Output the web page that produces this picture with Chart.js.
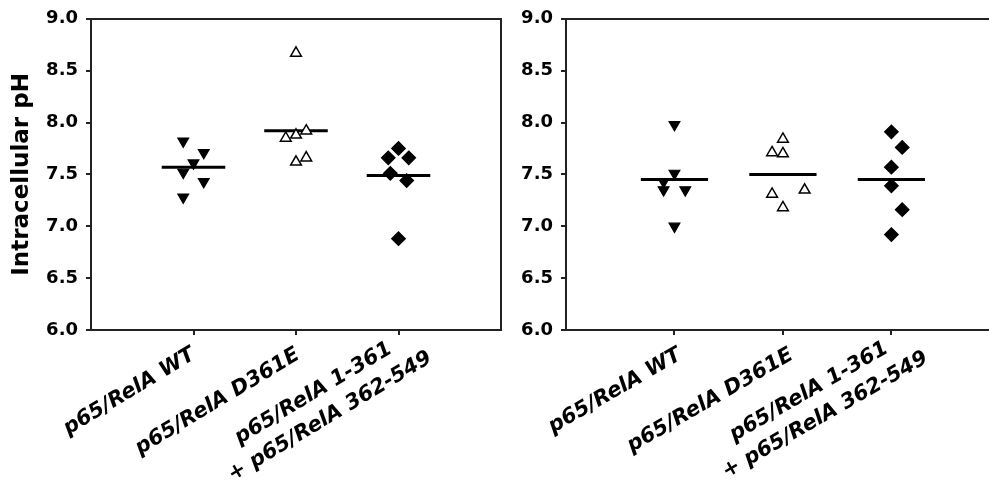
<!DOCTYPE html>
<html>
<head>
<meta charset="utf-8">
<script src="https://cdn.jsdelivr.net/npm/chart.js@4.4.0/dist/chart.umd.min.js"></script>
<style>
  body { margin: 0; background: #fff; width: 989px; height: 486px; overflow: hidden; position: relative; }
  canvas { position: absolute; top: 0; }
  #leftChart { left: 0; }
  #rightChart { left: 510px; }
</style>
</head>
<body>
<canvas id="leftChart" width="510" height="486"></canvas>
<canvas id="rightChart" width="479" height="486"></canvas>
<script>
// categories / tick labels
var groupLabels = ['p65/RelA WT', 'p65/RelA D361E', ['p65/RelA 1-361', '+ p65/RelA 362-549']];
var yTickValues = [6.0, 6.5, 7.0, 7.5, 8.0, 8.5, 9.0];

// left panel: pH values per group, plus horizontal scatter offsets
var leftWT = [7.82, 7.71, 7.61, 7.52, 7.43, 7.28];
var leftWTShift = [-0.1, 0.1, 0, -0.1, 0.1, -0.1];
var leftD361E = [8.67, 7.92, 7.88, 7.85, 7.66, 7.62];
var leftD361EShift = [0, 0.1, 0, -0.1, 0.1, 0];
var leftSplit = [7.75, 7.66, 7.66, 7.51, 7.44, 6.88];
var leftSplitShift = [0, -0.1, 0.1, -0.08, 0.08, 0];
var leftMeans = [7.57, 7.92, 7.49];

// right panel
var rightWT = [7.98, 7.51, 7.43, 7.35, 7.35, 7.00];
var rightWTShift = [0, 0, -0.1, -0.1, 0.1, 0];
var rightD361E = [7.84, 7.71, 7.70, 7.35, 7.31, 7.18];
var rightD361EShift = [0, -0.1, 0, 0.2, -0.1, 0];
var rightSplit = [7.91, 7.76, 7.57, 7.39, 7.16, 6.92];
var rightSplitShift = [0, 0.1, 0, 0, 0.1, 0];
var rightMeans = [7.45, 7.50, 7.45];

var AXIS = '#222';
var meanHalfWidth = 0.31;
var PLOT_BOTTOM = 330;
// the one-line labels get a tall line box, which just pushes them lower
var singleFont = {family: 'DejaVu Sans', size: 21, weight: 'bold', style: 'italic', lineHeight: 3.7};
var splitFont = {family: 'DejaVu Sans', size: 21, weight: 'bold', style: 'italic', lineHeight: 1.35};

function pts(group, values, shifts) {
  var out = [];
  for (var i = 0; i < values.length; i++) {
    out.push({x: group + shifts[i], y: values[i]});
  }
  return out;
}

function markerSet(data, style) {
  var ds = {type: 'scatter', data: data, pointRadius: 6.2, pointHoverRadius: 6.2, borderWidth: 1.2};
  if (style == 'down') {
    ds.pointStyle = 'triangle'; ds.rotation = 180;
    ds.backgroundColor = '#000'; ds.borderColor = '#000';
  } else if (style == 'open') {
    ds.pointStyle = 'triangle';
    ds.backgroundColor = '#fff'; ds.borderColor = '#000'; ds.borderWidth = 1.5;
  } else {
    ds.pointStyle = 'rectRot'; ds.pointRadius = 6.8;
    ds.backgroundColor = '#000'; ds.borderColor = '#000';
  }
  return ds;
}

function meanLine(group, mean) {
  return {
    type: 'line',
    data: [{x: group - meanHalfWidth, y: mean}, {x: group + meanHalfWidth, y: mean}],
    borderColor: '#000', borderWidth: 3, pointRadius: 0, fill: false
  };
}

function buildDatasets(wt, wtS, d, dS, sp, spS, means) {
  return [
    markerSet(pts(1, wt, wtS), 'down'),
    markerSet(pts(2, d, dS), 'open'),
    markerSet(pts(3, sp, spS), 'diamond'),
    meanLine(1, means[0]),
    meanLine(2, means[1]),
    meanLine(3, means[2])
  ];
}

function makeOptions(xMax, yWidth, padRight, padTop, withTitle, labelPos, rot) {
  var scales = {
    x: {
      type: 'linear', position: 'bottom', min: 0, max: xMax, weight: 0,
      afterBuildTicks: function (s) { s.ticks = [{value: 1}, {value: 2}, {value: 3}]; },
      afterFit: function (s) { s.height = 5; s.paddingLeft = 0; s.paddingRight = 0; },
      grid: {drawOnChartArea: false, drawTicks: true, tickLength: 5, color: AXIS, lineWidth: 2},
      border: {display: true, color: AXIS, width: 2},
      ticks: {display: false}
    },
    // separate axis only for the rotated category names
    xLab: {
      type: 'linear', position: 'bottom', min: 0, max: xMax, weight: 1,
      afterBuildTicks: function (s) {
        s.ticks = labelPos.map(function (v) { return {value: v}; });
      },
      afterFit: function (s) { s.height = 486 - PLOT_BOTTOM - 5; s.paddingLeft = 0; s.paddingRight = 0; },
      grid: {display: false, drawTicks: false},
      border: {display: false},
      ticks: {
        autoSkip: false, minRotation: rot, maxRotation: rot, padding: -15, color: '#000',
        font: function (c) { return c.index == 2 ? splitFont : singleFont; },
        callback: function (v, idx) {
          var lab = groupLabels[idx];
          if (Array.isArray(lab)) {
            // pull the shorter first line back so it sits centred over the second
            return [lab[0] + '\u00a0\u00a0\u00a0\u00a0', lab[1]];
          }
          return lab;
        }
      }
    },
    xTop: {
      type: 'linear', position: 'top', min: 0, max: xMax, display: true,
      afterFit: function (s) { s.height = 0; s.paddingLeft = 0; s.paddingRight = 0; },
      grid: {display: false, drawTicks: false},
      border: {display: true, color: AXIS, width: 2},
      ticks: {display: false}
    },
    y: {
      type: 'linear', position: 'left', min: 6, max: 9,
      afterBuildTicks: function (s) {
        s.ticks = yTickValues.map(function (v) { return {value: v}; });
      },
      afterFit: function (s) { s.width = yWidth; },
      grid: {drawOnChartArea: false, drawTicks: true, tickLength: 5, color: AXIS, lineWidth: 2},
      border: {display: true, color: AXIS, width: 2},
      ticks: {
        padding: 8, color: '#000',
        font: {family: 'DejaVu Sans', size: 18, weight: 'bold'},
        callback: function (v) { return v.toFixed(1); }
      },
      title: {
        display: withTitle, text: 'Intracellular pH', color: '#000',
        font: {family: 'DejaVu Sans', size: 23, weight: 'bold'},
        padding: {top: 8, bottom: 0}
      }
    }
  };
  if (padRight > 0) {
    scales.yRight = {
      type: 'linear', position: 'right', min: 6, max: 9, display: true,
      afterFit: function (s) { s.width = 0; },
      grid: {display: false, drawTicks: false},
      border: {display: true, color: AXIS, width: 2},
      ticks: {display: false}
    };
  }
  return {
    responsive: false,
    animation: false,
    layout: {autoPadding: false, padding: {left: 0, right: padRight, top: padTop, bottom: 0}},
    plugins: {legend: {display: false}, tooltip: {enabled: false}},
    scales: scales
  };
}

new Chart(document.getElementById('leftChart'), {
  type: 'scatter',
  data: {datasets: buildDatasets(leftWT, leftWTShift, leftD361E, leftD361EShift, leftSplit, leftSplitShift, leftMeans)},
  options: makeOptions(4, 91, 9, 15, true, [1.0, 2.02, 3.165], 31)
});

new Chart(document.getElementById('rightChart'), {
  type: 'scatter',
  data: {datasets: buildDatasets(rightWT, rightWTShift, rightD361E, rightD361EShift, rightSplit, rightSplitShift, rightMeans)},
  options: makeOptions(3.9, 56, 0, 16, false, [1.05, 2.08, 3.19], 30)
});
</script>
</body>
</html>
